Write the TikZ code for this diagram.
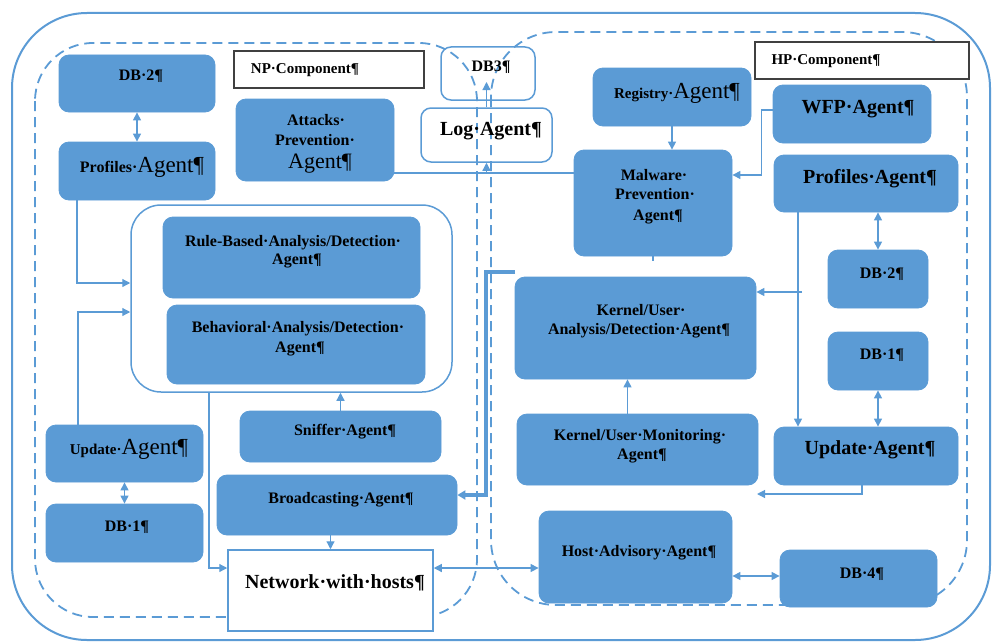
\documentclass[tikz,border=0pt]{standalone}
\usepackage{fontspec}
\setmainfont{Liberation Serif}
\usetikzlibrary{arrows.meta,fit}
\definecolor{mblue}{RGB}{91,155,213}
\newcommand\fsz[1]{\fontsize{#1}{#1}\selectfont}
\begin{document}
\begin{tikzpicture}[x=1pt,y=-1pt,
  bx/.style={draw=mblue, fill=mblue, rounded corners=10pt, line width=0.8pt, inner sep=0pt},
  wbx/.style={draw=mblue, rounded corners=10pt, line width=1.5pt, inner sep=0pt},
  gbx/.style={draw=mblue, rounded corners=30pt, line width=1.5pt, inner sep=0pt},
  netbx/.style={draw=mblue, fill=white, line width=1.5pt, inner sep=0pt},
  compbx/.style={draw=black!75, fill=white, line width=1.2pt, inner sep=0pt},
  tx/.style={anchor=base, inner sep=0pt, text=black},
  ts/.style={tx, font=\fsz{16}\bfseries},
  tb/.style={tx, font=\fsz{20}\bfseries},
  conn/.style={draw=mblue, line width=1.2pt},
  arr/.style={conn, -{Triangle[length=8pt,width=8pt]}},
  darr/.style={conn, {Triangle[length=8pt,width=8pt]}-{Triangle[length=8pt,width=8pt]}},
  thk/.style={draw=mblue, line width=3.5pt, -{Triangle[length=8pt,width=9pt]}},
  dsh/.style={draw=mblue, line width=1.8pt, dash pattern=on 10pt off 6pt}
]
\useasboundingbox (0,0) rectangle (992,642);

% outer and component boundaries
\draw[mblue, line width=2pt, rounded corners=75pt] (12,13) rectangle (990,640);
\draw[dsh, rounded corners=58pt] (35,43) rectangle (477,617);
\draw[dsh, rounded corners=65pt] (491,32) rectangle (967,605);

% group of analysis agents
\node[gbx, fit={(131,205)(452,392)}] (grp) {};

% left (NP) boxes
\node[bx, fit={(59,55)(215,112)}] (db2l) {};
\node[bx, fit={(59,142)(215,200)}] (profl) {};
\node[compbx, fit={(234,51)(424,88)}] (npc) {};
\node[bx, fit={(236,99)(394,181)}] (att) {};
\node[wbx, fit={(441,47)(535,100)}] (db3) {};
\node[wbx, fit={(421,108)(552,162)}] (log) {};
\node[bx, fit={(163,217)(420,298)}] (rule) {};
\node[bx, fit={(167,305)(425,384)}] (beh) {};
\node[bx, fit={(240,411)(441,462)}] (snf) {};
\node[bx, fit={(46,425)(203,482)}] (updl) {};
\node[bx, fit={(46,504)(203,562)}] (db1l) {};
\node[bx, fit={(217,475)(457,535)}] (brd) {};
\node[netbx, fit={(228,550)(433,631)}] (net) {};

% right (HP) boxes
\node[compbx, fit={(755,42)(969,79)}] (hpc) {};
\node[bx, fit={(593,68)(751,126)}] (reg) {};
\node[bx, fit={(773,85)(931,143)}] (wfp) {};
\node[bx, fit={(574,150)(732,256)}] (mal) {};
\node[bx, fit={(774,155)(958,212)}] (profr) {};
\node[bx, fit={(828,250)(928,308)}] (db2r) {};
\node[bx, fit={(828,332)(928,390)}] (db1r) {};
\node[bx, fit={(774,427)(958,485)}] (updr) {};
\node[bx, fit={(515,277)(756,379)}] (kana) {};
\node[bx, fit={(517,414)(758,485)}] (mon) {};
\node[bx, fit={(539,511)(732,603)}] (host) {};
\node[bx, fit={(780,550)(937,607)}] (db4) {};

% connectors (left)
\draw[darr] (db2l.south) -- (profl.north);
\draw[arr] ([xshift=-60pt]profl.south) |- ([yshift=15.5pt]grp.west);
\draw[arr] ([xshift=-46.5pt]updl.north) |- ([yshift=-13.5pt]grp.west);
\draw[darr] (updl.south) -- (db1l.north);
\draw[arr] (snf.north) -- (snf.north |- grp.south);
\draw[arr] ([xshift=-82.5pt]grp.south) |- ([yshift=22.5pt]net.west);
\draw[arr] (brd.south -| net.north) -- (net.north);
\coordinate (thkst) at (515,272);
\draw[thk] (thkst) -- (486,272) |- ([yshift=10pt]brd.east);
\draw[darr] ([yshift=22.5pt]net.east) -- ([yshift=22.5pt]net.east -| host.west);

% middle
\path ([yshift=-33pt]att.east) coordinate (hl);
\draw[conn] (hl) -- (hl -| mal.west);
\draw[arr] (hl -| log.south) -- (log.south);
\coordinate (db3in) at (486.5,82);
\draw[arr] (log.north) -- (db3in);

% connectors (right)
\draw[darr] ([yshift=2.5pt]db4.west -| host.east) -- ([yshift=2.5pt]db4.west);
\draw[arr] (reg.south) -- (reg.south |- mal.north);
\draw[arr] ([yshift=4pt]wfp.west) -- ++(-11pt,0pt) |- ([yshift=28pt]mal.east);
\draw[darr] (db2r.north |- profr.south) -- (db2r.north);
\draw[darr] (db1r.south) -- (db1r.south |- updr.north);
\draw[arr] ([xshift=-68pt]profr.south) -- ([xshift=-68pt]profr.south |- updr.north);
\coordinate (ka) at (802,292);
\draw[arr] (ka) -- (ka -| kana.east);
\coordinate (mo) at (757,494);
\draw[arr] ([xshift=-4pt]updr.south) |- (mo);
\draw[arr] ([xshift=-10pt]mon.north) -- ([xshift=-10pt]mon.north |- kana.south);
\draw[conn] (mal.south) -- ++(0,-5pt);

% texts (left)
\node[ts] (db2l-t) at (141,81) {DB·2¶};
\node[tx] (profl-t) at (142,172) {{\fsz{16}\bfseries Profiles·}{\fsz{23}Agent¶}};
\node[tx, font=\fsz{15}\bfseries] (npc-t) at (305,73) {NP·Component¶};
\node[ts] (att-t1) at (316,125) {Attacks·};
\node[ts] (att-t2) at (315,145) {Prevention·};
\node[tx, font=\fsz{22}] (att-t3) at (320,168) {Agent¶};
\node[ts] (db3-t) at (491,71) {DB3¶};
\node[tb] (log-t) at (491,135) {Log·Agent¶};
\node[ts] (rule-t1) at (293,246) {Rule-Based·Analysis/Detection·};
\node[ts] (rule-t2) at (297,264) {Agent¶};
\node[ts] (beh-t1) at (298,332) {Behavioral·Analysis/Detection·};
\node[ts] (beh-t2) at (300,352) {Agent¶};
\node[ts] (snf-t) at (345,435) {Sniffer·Agent¶};
\node[tx] (updl-t) at (129,454) {{\fsz{15}\bfseries Update·}{\fsz{23}Agent¶}};
\node[ts] (db1l-t) at (127,531) {DB·1¶};
\node[ts] (brd-t) at (341,503) {Broadcasting·Agent¶};
\node[tb] (net-t) at (335,588) {Network·with·hosts¶};

% texts (right)
\node[tx, font=\fsz{15}\bfseries] (hpc-t) at (826,64) {HP·Component¶};
\node[tx] (reg-t) at (677,98) {{\fsz{15}\bfseries Registry·}{\fsz{23}Agent¶}};
\node[tb] (wfp-t) at (858,113) {WFP·Agent¶};
\node[ts] (mal-t1) at (654,180) {Malware·};
\node[ts] (mal-t2) at (655,199) {Prevention·};
\node[ts] (mal-t3) at (658,220) {Agent¶};
\node[tb] (profr-t) at (870,183) {Profiles·Agent¶};
\node[ts] (db2r-t) at (882,278) {DB·2¶};
\node[ts] (db1r-t) at (882,359) {DB·1¶};
\node[tb] (updr-t) at (870,454) {Update·Agent¶};
\node[ts] (kana-t1) at (641,315) {Kernel/User·};
\node[ts] (kana-t2) at (639,334) {Analysis/Detection·Agent¶};
\node[ts] (mon-t1) at (640,440) {Kernel/User·Monitoring·};
\node[ts] (mon-t2) at (642,459) {Agent¶};
\node[ts] (host-t) at (639,556) {Host·Advisory·Agent¶};
\node[ts] (db4-t) at (862,578) {DB·4¶};
\end{tikzpicture}
\end{document}
